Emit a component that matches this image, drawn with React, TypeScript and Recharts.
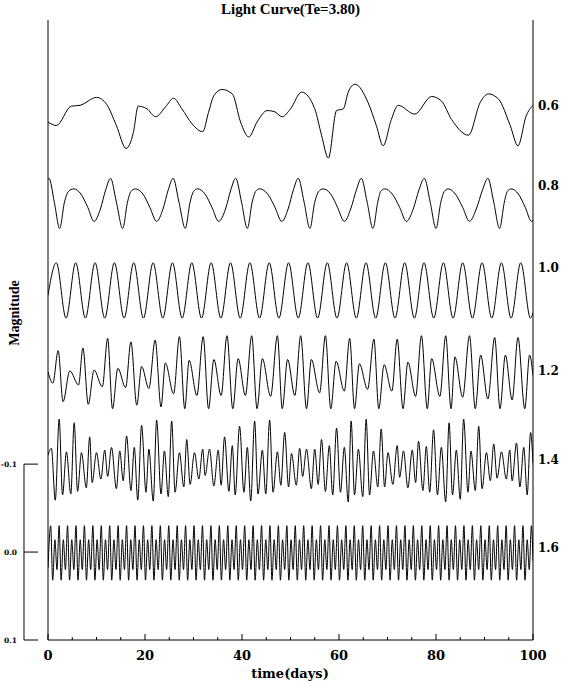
import { LineChart, Line, XAxis, YAxis, ReferenceLine } from 'recharts';

// time axis ticks (days), majors every 20
const DAY_TICKS = [0, 5, 10, 15, 20, 25, 30, 35, 40, 45, 50, 55, 60, 65, 70, 75, 80, 85, 90, 95, 100];
const SCALE_TICKS = [-0.1, 0, 0.1];

const CURVE_NAMES = ['0.6', '0.8', '1.0', '1.2', '1.4', '1.6'];
const NAME_LEVELS = [-0.508, -0.416, -0.323, -0.206, -0.105, -0.005];
const CURVE_OFFSETS = [-0.503, -0.402, -0.302, -0.201, -0.101, 0];

// [time, magnitude deviation]
const lc06 = [
  [0, 0.014], [1.7, 0.018], [4.8, -0.004], [6.6, -0.005], [10.0, -0.014], [12.1, -0.006], [14.1, 0.018],
  [16.1, 0.044], [17.6, 0.026], [18.6, -0.004], [20.4, -0.001], [22.2, 0.008], [24.2, -0.003], [25.9, -0.013],
  [27.6, -0.001], [29.7, 0.016], [31.9, 0.025], [33.1, 0.003], [34.2, -0.016], [35.9, -0.023], [38.0, -0.018],
  [39.7, 0.014], [41.4, 0.031], [43.1, 0.014], [45.2, 0.001], [46.6, 0.002], [48.3, 0.008], [50.0, -0.001],
  [52.3, -0.020], [55.0, -0.001], [56.4, 0.029], [57.8, 0.055], [59.5, 0.001], [60.9, -0.001], [61.9, -0.020],
  [63.3, -0.029], [66.0, -0.008], [67.7, 0.018], [69.1, 0.041], [70.8, 0.011], [72.2, -0.005], [75.6, 0.005],
  [79.1, -0.015], [81.1, -0.010], [83.2, 0.011], [86.7, 0.029], [89.1, -0.008], [90.8, -0.018], [92.9, -0.012],
  [95.3, 0.018], [96.9, 0.041], [98.6, 0.007], [100, -0.005],
];

const lc08 = [
  [0, -0.022], [0.2, -0.023], [1.3, 0.004], [2.4, 0.034], [3.4, 0.004], [4.2, -0.008], [5.3, -0.011], [6.8, -0.005],
  [8.2, 0.010], [9.5, 0.026], [10.8, 0.012], [11.9, -0.010], [12.9, -0.023],
  [14.1, 0.004], [15.4, 0.034], [16.4, 0.004], [17.1, -0.008], [18.0, -0.011], [19.6, -0.005], [21.0, 0.010],
  [22.4, 0.026], [23.7, 0.012], [24.8, -0.010], [25.8, -0.023],
  [27.0, 0.004], [28.3, 0.034], [29.3, 0.004], [30.0, -0.008], [30.8, -0.011], [32.4, -0.005], [33.8, 0.010],
  [35.2, 0.026], [36.6, 0.012], [37.7, -0.010], [38.7, -0.023],
  [39.9, 0.004], [41.1, 0.034], [42.1, 0.004], [42.8, -0.008], [43.6, -0.011], [45.3, -0.005], [46.8, 0.010],
  [48.2, 0.026], [49.5, 0.012], [50.6, -0.010], [51.6, -0.023],
  [52.8, 0.004], [54.0, 0.034], [55.0, 0.004], [55.8, -0.008], [56.7, -0.011], [58.3, -0.005], [59.7, 0.010],
  [61.1, 0.026], [62.4, 0.012], [63.6, -0.010], [64.6, -0.023],
  [65.8, 0.004], [67.0, 0.034], [68.0, 0.004], [68.6, -0.008], [69.4, -0.011], [71.0, -0.005], [72.5, 0.010],
  [73.9, 0.026], [75.3, 0.012], [76.5, -0.010], [77.6, -0.023],
  [78.8, 0.004], [80.0, 0.034], [81.0, 0.004], [81.7, -0.008], [82.5, -0.011], [84.0, -0.005], [85.5, 0.010],
  [86.9, 0.026], [88.3, 0.012], [89.6, -0.010], [90.7, -0.023],
  [91.9, 0.004], [93.1, 0.034], [94.1, 0.004], [94.7, -0.008], [95.5, -0.011], [97.0, -0.005], [98.4, 0.010],
  [99.7, 0.026], [100, 0.025],
];

const lc10 = [
  [0, 0.010], [1.72, -0.027], [3.72, 0.036], [5.71, -0.027], [7.71, 0.036], [9.70, -0.027], [11.70, 0.036],
  [13.69, -0.027], [15.69, 0.036], [17.68, -0.027], [19.68, 0.036], [21.67, -0.027], [23.67, 0.036],
  [25.66, -0.027], [27.66, 0.036], [29.65, -0.027], [31.65, 0.036], [33.64, -0.027], [35.64, 0.036],
  [37.63, -0.027], [39.63, 0.036], [41.62, -0.027], [43.62, 0.036], [45.61, -0.027], [47.61, 0.036],
  [49.60, -0.027], [51.60, 0.036], [53.59, -0.027], [55.59, 0.036], [57.58, -0.027], [59.58, 0.036],
  [61.57, -0.027], [63.57, 0.036], [65.56, -0.027], [67.56, 0.036], [69.55, -0.027], [71.55, 0.036],
  [73.54, -0.027], [75.54, 0.036], [77.53, -0.027], [79.53, 0.036], [81.52, -0.027], [83.52, 0.036],
  [85.51, -0.027], [87.51, 0.036], [89.50, -0.027], [91.50, 0.036], [93.49, -0.027], [95.49, 0.036],
  [97.48, -0.027], [99.48, 0.036], [100, 0.030],
];

const lc12 = [
  [0, -0.004], [1.0, 0.009], [2.1, -0.028], [3.1, 0.030], [4.5, -0.005], [6.3, 0.011], [7.2, -0.031], [8.3, 0.033],
  [9.5, -0.006], [11.2, 0.013], [12.3, -0.042], [13.3, 0.038], [14.4, -0.008], [16.0, 0.014], [17.1, -0.038],
  [18.3, 0.034], [19.3, -0.010], [20.8, 0.015], [22.1, -0.040], [23.3, 0.036], [24.2, -0.014], [25.9, 0.021],
  [27.1, -0.044], [28.2, 0.038], [29.1, -0.017], [30.7, 0.023], [32.0, -0.044], [33.1, 0.038], [34.2, -0.018],
  [35.7, 0.023], [36.9, -0.045], [38.1, 0.038], [39.2, -0.019], [40.7, 0.023], [42.0, -0.045], [43.1, 0.038],
  [44.2, -0.019], [45.9, 0.024], [47.3, -0.045], [48.3, 0.038], [49.4, -0.018], [50.9, 0.023], [52.1, -0.045],
  [53.3, 0.038], [54.3, -0.018], [56.0, 0.020], [57.2, -0.045], [58.3, 0.038], [59.4, -0.016], [61.1, 0.018],
  [62.2, -0.042], [63.2, 0.038], [64.2, -0.013], [65.9, 0.016], [67.2, -0.041], [68.2, 0.038], [69.3, -0.012],
  [70.9, 0.018], [72.0, -0.041], [73.2, 0.038], [74.2, -0.015], [75.8, 0.024], [77.0, -0.045], [78.2, 0.038],
  [79.1, -0.019], [80.8, 0.024], [82.0, -0.045], [83.1, 0.038], [83.9, -0.021], [85.5, 0.025], [86.9, -0.045],
  [88.1, 0.038], [89.2, -0.023], [90.7, 0.027], [92.1, -0.043], [93.2, 0.038], [94.3, -0.023], [95.7, 0.028],
  [96.9, -0.043], [98.3, 0.038], [99.3, -0.023], [100, 0.0],
];

const lc14 = [
  [0, -0.009], [0.7, -0.017], [1.5, 0.042], [2.3, -0.050], [3.0, 0.036], [3.8, -0.013], [4.7, 0.035], [5.4, -0.046],
  [6.1, 0.032], [6.9, -0.012], [7.9, 0.028], [8.6, -0.030], [9.1, 0.022], [10.0, -0.012], [10.9, 0.018],
  [11.7, -0.015], [12.3, 0.015], [13.1, -0.018], [14.1, 0.029], [14.8, -0.014], [15.5, 0.020], [16.2, -0.031],
  [17.1, 0.031], [17.8, -0.018], [18.5, 0.042], [19.3, -0.043], [20.2, 0.033], [20.8, -0.016], [21.7, 0.043],
  [22.4, -0.049], [23.3, 0.035], [24.0, -0.014], [24.8, 0.038], [25.5, -0.048], [26.2, 0.033], [27.1, -0.012],
  [28.0, 0.027], [28.6, -0.027], [29.3, 0.024], [30.2, -0.012], [31.1, 0.018], [31.9, -0.016], [32.4, 0.014],
  [33.3, -0.016], [34.2, 0.026], [35.1, -0.015], [35.7, 0.025], [36.4, -0.030], [37.3, 0.032], [38.0, -0.020],
  [38.6, 0.036], [39.5, -0.042], [40.4, 0.033], [41.1, -0.018], [41.8, 0.043], [42.6, -0.048], [43.3, 0.035],
  [44.2, -0.015], [44.9, 0.035], [45.7, -0.049], [46.4, 0.033], [47.3, -0.013], [48.0, 0.025], [48.8, -0.035],
  [49.6, 0.027], [50.2, -0.011], [51.2, 0.025], [51.9, -0.017], [52.5, 0.015], [53.3, -0.016], [54.3, 0.029],
  [55.0, -0.016], [55.7, 0.024], [56.4, -0.027], [57.2, 0.032], [58.0, -0.020], [58.7, 0.036], [59.5, -0.040],
  [60.3, 0.033], [61.1, -0.018], [61.9, 0.044], [62.5, -0.048], [63.2, 0.036], [64.0, -0.016], [64.9, 0.038],
  [65.6, -0.050], [66.3, 0.036], [67.1, -0.014], [68.0, 0.027], [68.7, -0.039], [69.4, 0.027], [70.1, -0.012],
  [71.1, 0.024], [72.0, -0.020], [72.5, 0.016], [73.3, -0.014], [74.2, 0.028], [75.1, -0.015], [75.8, 0.022],
  [76.4, -0.025], [77.3, 0.031], [78.0, -0.019], [78.7, 0.033], [79.5, -0.038], [80.3, 0.036], [81.1, -0.018],
  [82.0, 0.044], [82.7, -0.046], [83.4, 0.036], [84.2, -0.015], [85.0, 0.041], [85.7, -0.050], [86.6, 0.033],
  [87.2, -0.014], [88.1, 0.031], [88.8, -0.042], [89.5, 0.029], [90.4, -0.012], [91.2, 0.020], [91.9, -0.022],
  [92.6, 0.017], [93.5, -0.013], [94.5, 0.018], [95.2, -0.015], [95.7, 0.020], [96.6, -0.023], [97.3, 0.027],
  [98.1, -0.018], [98.8, 0.036], [99.5, -0.035], [100, 0.0],
];

const lc16 = [
  [0, 0.018],
  [0.55, -0.030], [0.97, 0.032], [1.42, -0.014], [1.85, 0.020], [2.29, -0.030], [2.71, 0.032], [3.16, -0.014], [3.59, 0.020],
  [4.03, -0.030], [4.45, 0.032], [4.90, -0.014], [5.33, 0.020], [5.77, -0.030], [6.19, 0.032], [6.64, -0.014], [7.07, 0.020],
  [7.51, -0.030], [7.93, 0.032], [8.38, -0.014], [8.81, 0.020], [9.25, -0.030], [9.67, 0.032], [10.12, -0.014], [10.55, 0.020],
  [10.98, -0.030], [11.40, 0.032], [11.85, -0.014], [12.28, 0.020], [12.72, -0.030], [13.14, 0.032], [13.59, -0.014], [14.02, 0.020],
  [14.46, -0.030], [14.88, 0.032], [15.33, -0.014], [15.76, 0.020], [16.20, -0.030], [16.62, 0.032], [17.07, -0.014], [17.50, 0.020],
  [17.94, -0.030], [18.36, 0.032], [18.81, -0.014], [19.24, 0.020], [19.68, -0.030], [20.10, 0.032], [20.55, -0.014], [20.98, 0.020],
  [21.42, -0.030], [21.84, 0.032], [22.29, -0.014], [22.72, 0.020], [23.16, -0.030], [23.58, 0.032], [24.03, -0.014], [24.46, 0.020],
  [24.90, -0.030], [25.32, 0.032], [25.77, -0.014], [26.20, 0.020], [26.64, -0.030], [27.06, 0.032], [27.51, -0.014], [27.94, 0.020],
  [28.37, -0.030], [28.79, 0.032], [29.24, -0.014], [29.67, 0.020], [30.11, -0.030], [30.53, 0.032], [30.98, -0.014], [31.41, 0.020],
  [31.85, -0.030], [32.27, 0.032], [32.72, -0.014], [33.15, 0.020], [33.59, -0.030], [34.01, 0.032], [34.46, -0.014], [34.89, 0.020],
  [35.33, -0.030], [35.75, 0.032], [36.20, -0.014], [36.63, 0.020], [37.07, -0.030], [37.49, 0.032], [37.94, -0.014], [38.37, 0.020],
  [38.81, -0.030], [39.23, 0.032], [39.68, -0.014], [40.11, 0.020], [40.55, -0.030], [40.97, 0.032], [41.42, -0.014], [41.85, 0.020],
  [42.29, -0.030], [42.71, 0.032], [43.16, -0.014], [43.59, 0.020], [44.03, -0.030], [44.45, 0.032], [44.90, -0.014], [45.33, 0.020],
  [45.76, -0.030], [46.18, 0.032], [46.63, -0.014], [47.06, 0.020], [47.50, -0.030], [47.92, 0.032], [48.37, -0.014], [48.80, 0.020],
  [49.24, -0.030], [49.66, 0.032], [50.11, -0.014], [50.54, 0.020], [50.98, -0.030], [51.40, 0.032], [51.85, -0.014], [52.28, 0.020],
  [52.72, -0.030], [53.14, 0.032], [53.59, -0.014], [54.02, 0.020], [54.46, -0.030], [54.88, 0.032], [55.33, -0.014], [55.76, 0.020],
  [56.20, -0.030], [56.62, 0.032], [57.07, -0.014], [57.50, 0.020], [57.94, -0.030], [58.36, 0.032], [58.81, -0.014], [59.24, 0.020],
  [59.68, -0.030], [60.10, 0.032], [60.55, -0.014], [60.98, 0.020], [61.42, -0.030], [61.84, 0.032], [62.29, -0.014], [62.72, 0.020],
  [63.15, -0.030], [63.57, 0.032], [64.02, -0.014], [64.45, 0.020], [64.89, -0.030], [65.31, 0.032], [65.76, -0.014], [66.19, 0.020],
  [66.63, -0.030], [67.05, 0.032], [67.50, -0.014], [67.93, 0.020], [68.37, -0.030], [68.79, 0.032], [69.24, -0.014], [69.67, 0.020],
  [70.11, -0.030], [70.53, 0.032], [70.98, -0.014], [71.41, 0.020], [71.85, -0.030], [72.27, 0.032], [72.72, -0.014], [73.15, 0.020],
  [73.59, -0.030], [74.01, 0.032], [74.46, -0.014], [74.89, 0.020], [75.33, -0.030], [75.75, 0.032], [76.20, -0.014], [76.63, 0.020],
  [77.07, -0.030], [77.49, 0.032], [77.94, -0.014], [78.37, 0.020], [78.81, -0.030], [79.23, 0.032], [79.68, -0.014], [80.11, 0.020],
  [80.54, -0.030], [80.96, 0.032], [81.41, -0.014], [81.84, 0.020], [82.28, -0.030], [82.70, 0.032], [83.15, -0.014], [83.58, 0.020],
  [84.02, -0.030], [84.44, 0.032], [84.89, -0.014], [85.32, 0.020], [85.76, -0.030], [86.18, 0.032], [86.63, -0.014], [87.06, 0.020],
  [87.50, -0.030], [87.92, 0.032], [88.37, -0.014], [88.80, 0.020], [89.24, -0.030], [89.66, 0.032], [90.11, -0.014], [90.54, 0.020],
  [90.98, -0.030], [91.40, 0.032], [91.85, -0.014], [92.28, 0.020], [92.72, -0.030], [93.14, 0.032], [93.59, -0.014], [94.02, 0.020],
  [94.46, -0.030], [94.88, 0.032], [95.33, -0.014], [95.76, 0.020], [96.20, -0.030], [96.62, 0.032], [97.07, -0.014], [97.50, 0.020],
  [97.93, -0.030], [98.35, 0.032], [98.80, -0.014], [99.23, 0.020], [99.67, -0.030], [100, 0.010],
];

const CURVES = [lc06, lc08, lc10, lc12, lc14, lc16];

const FONT = '"DejaVu Serif", "Liberation Serif", serif';
const TITLE_FONT = '"Liberation Serif", "DejaVu Serif", serif';

const TimeTick = ({ x, y, payload, top }: any) => {
  const major = payload.value % 20 === 0;
  const len = major ? 6 : 3;
  return (
    <g>
      <line x1={x} x2={x} y1={y} y2={top ? y + len : y - len} stroke="#000" />
      {!top && major && (
        <text x={x} y={y + 20} textAnchor="middle" fontFamily={FONT} fontWeight="bold" fontSize={13} fill="#000">
          {payload.value}
        </text>
      )}
    </g>
  );
};

const ScaleTick = ({ x, y, payload }: any) => (
  <g>
    <line x1={x - 24} x2={x - 10} y1={y} y2={y} stroke="#000" />
    <text x={x - 31} y={y + 3} textAnchor="end" fontFamily={FONT} fontWeight="bold" fontSize={7.5} fill="#000">
      {payload.value === 0 ? '0.0' : payload.value.toFixed(1)}
    </text>
  </g>
);

const App = () => {
  const series = CURVES.map((c, i) => c.map(([t, v]) => ({ t, v: CURVE_OFFSETS[i] + v })));
  const domain = [-0.605, 0.1];

  return (
    <div style={{ position: 'absolute', left: 0, top: 0, width: 568, height: 683, background: '#fff' }}>
      <div
        style={{
          position: 'absolute', left: 48, top: 1, width: 485, textAlign: 'center',
          fontFamily: TITLE_FONT, fontWeight: 'bold', fontSize: 15, color: '#000',
        }}
      >
        Light Curve(Te=3.80)
      </div>
      <LineChart width={568} height={683} margin={{ top: 20, right: 0, bottom: 0, left: 0 }}>
        <XAxis
          dataKey="t"
          type="number"
          domain={[0, 100]}
          ticks={DAY_TICKS}
          interval={0}
          allowDataOverflow
          height={43}
          tickSize={0}
          tickMargin={0}
          tickLine={false}
          axisLine={{ stroke: '#000' }}
          tick={<TimeTick />}
          label={{
            content: () => (
              <text x={290} y={678} textAnchor="middle" fontFamily={FONT} fontWeight="bold" fontSize={13} fill="#000">
                time(days)
              </text>
            ),
          }}
        />
        <XAxis
          xAxisId="top"
          orientation="top"
          dataKey="t"
          type="number"
          domain={[0, 100]}
          ticks={DAY_TICKS}
          interval={0}
          allowDataOverflow
          height={0}
          tickSize={0}
          tickMargin={0}
          tickLine={false}
          axisLine={{ stroke: '#000' }}
          tick={<TimeTick top />}
        />
        <YAxis
          yAxisId="m"
          type="number"
          domain={domain}
          reversed
          allowDataOverflow
          ticks={SCALE_TICKS}
          interval={0}
          width={48}
          tickSize={0}
          tickMargin={0}
          tickLine={false}
          axisLine={{ stroke: '#000' }}
          tick={<ScaleTick />}
          label={{
            content: () => (
              <text
                x={19}
                y={313}
                transform="rotate(-90 19 313)"
                textAnchor="middle"
                fontFamily={TITLE_FONT}
                fontWeight="bold"
                fontSize={14}
                fill="#000"
              >
                Magnitude
              </text>
            ),
          }}
        />
        <YAxis
          yAxisId="names"
          orientation="right"
          type="number"
          domain={domain}
          reversed
          allowDataOverflow
          ticks={NAME_LEVELS}
          interval={0}
          width={35}
          tickSize={0}
          tickMargin={5}
          tickLine={false}
          axisLine={{ stroke: '#000' }}
          tickFormatter={(_v: number, i: number) => CURVE_NAMES[i]}
          tick={{ fill: '#000', fontFamily: FONT, fontWeight: 'bold', fontSize: 12, textAnchor: 'start' }}
        />
        <ReferenceLine
          yAxisId="m"
          segment={[{ x: -4.95, y: -0.1 }, { x: -4.95, y: 0.1 }]}
          ifOverflow="visible"
          stroke="#000"
        />
        {series.map((d, i) => (
          <Line
            key={CURVE_NAMES[i]}
            yAxisId="m"
            data={d}
            dataKey="v"
            type="monotone"
            stroke="#000"
            strokeWidth={1}
            dot={false}
            isAnimationActive={false}
          />
        ))}
      </LineChart>
    </div>
  );
};

export default App;
